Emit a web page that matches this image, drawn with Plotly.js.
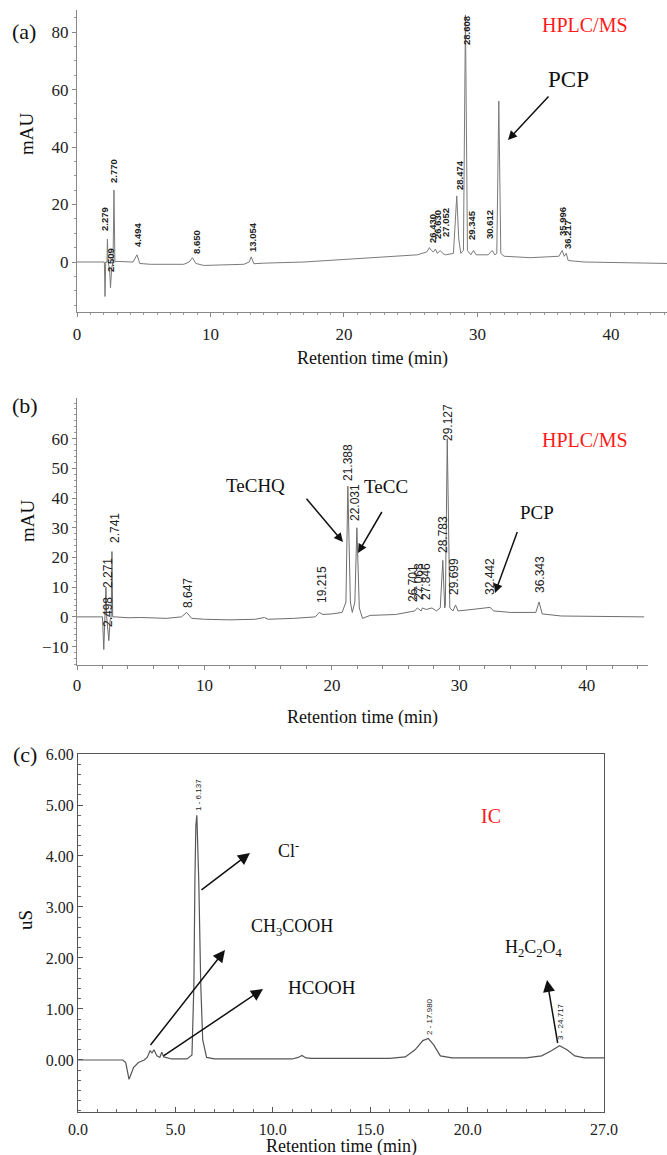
<!DOCTYPE html>
<html>
<head>
<meta charset="utf-8">
<script src="https://cdn.plot.ly/plotly-3.0.1.min.js"></script>
<style>html,body{margin:0;padding:0;background:#fff;}#chart{width:667px;height:1155px;}</style>
</head>
<body>
<div id="chart"></div>
<script>
// ---------- Data ----------
// Panel (a): HPLC/MS chromatogram, retention time (min) vs mAU
const timeA = [0,1.8,2.05,2.1,2.15,2.25,2.279,2.33,2.45,2.509,2.6,2.7,2.77,2.84,3.0,4.2,4.494,4.7,5.5,8.0,8.4,8.65,8.9,9.5,12.5,12.9,13.054,13.25,14,17,20,22,24,25.5,26.2,26.4,26.55,26.7,26.85,27.0,27.2,27.4,27.6,28.2,28.45,28.6,28.75,28.95,29.1,29.25,29.5,29.7,29.9,30.8,31.1,31.3,31.45,31.6,31.75,32.0,34,36.1,36.35,36.5,36.65,36.8,38,44.2];
const mauA  = [0,0,0,-12,0,0,8,0,-3,-9,-2,0,25,0,0.2,0,2.5,-0.5,-0.8,-0.8,0,1.5,-0.5,-1.2,-0.8,0,1.8,-0.6,-0.4,0,0.8,1.5,2.0,2.5,3.5,5,4,3.5,4.5,3,4,3,2.5,3,23,8,3,4,86,4,2.5,4,2.5,2.5,4,2.5,3,56,3,2,1.5,2,4,2,3,0.5,0,-0.5];
// Panel (b)
const timeB = [0,2.0,2.1,2.2,2.271,2.33,2.42,2.498,2.6,2.68,2.741,2.8,3,4,5,7,8.2,8.6,9,10,12,14,14.7,15,17,18.7,19.0,19.3,20,20.8,21.1,21.25,21.45,21.6,21.8,21.96,22.15,22.4,23,25,26.5,26.7,27,27.1,27.4,27.85,28.2,28.5,28.7,28.85,28.9,29.05,29.25,29.5,29.7,29.9,31,32.4,32.7,34,36,36.25,36.5,38,44.5];
const mauB  = [0,0,-11,0,10,0,-5,-8,-1,0,22,0,0,-0.3,-0.2,-0.5,0,1.5,-0.5,-0.8,-1,-0.8,-0.2,-0.8,-0.5,0,1.5,0.8,1,1.5,5,44,5,1.5,5,30,3,-0.5,0.5,0.8,2,3,2,3,2.5,3,2,3,19,3,4,60,3,2,4,2,2.5,3.2,2,1.5,1.5,5,1,0.3,0];
// Panel (c): ion chromatogram, retention time (min) vs uS
const timeC = [0,2.3,2.45,2.55,2.62,2.7,2.85,3.1,3.4,3.55,3.7,3.8,3.9,4.05,4.2,4.3,4.4,4.8,5.6,5.85,5.95,6.0,6.05,6.1,6.2,6.3,6.4,6.6,7,11,11.3,11.5,11.7,12,16,16.8,17.3,17.7,17.98,18.25,18.6,19.2,23,23.8,24.3,24.717,25.1,25.5,26,27];
const usC   = [0,0,-0.05,-0.25,-0.38,-0.3,-0.15,-0.05,0,0.05,0.18,0.14,0.2,0.08,0.05,0.15,0.06,0.02,0.02,0.1,1.5,3.5,4.6,4.8,3.5,1.5,0.4,0.05,0.02,0.02,0.05,0.09,0.04,0.03,0.03,0.06,0.2,0.38,0.42,0.3,0.08,0.04,0.04,0.08,0.18,0.28,0.2,0.08,0.04,0.04];

const ticksA = [0,20,40,60,80];
const ticksB = [-10,0,10,20,30,40,50,60];
const ticksC = [0,1,2,3,4,5,6];
const ticksCtext = ['0.00','1.00','2.00','3.00','4.00','5.00','6.00'];
const xticksC = [0,5,10,15,20,27];
const xticksCtext = ['0.0','5.0','10.0','15.0','20.0','27.0'];

const peakLabelsA = ['2.770','2.279','2.509','4.494','8.650','13.054','26.430','26.630','27.052','28.474','28.608','29.345','30.612','35.996','36.217'];
const peakLabelsB = ['2.741','2.271','2.498','8.647','19.215','21.388','22.031','26.701','27.068','27.846','28.783','29.127','29.699','32.442','36.343'];
const peakLabelsC = ['1 - 6.137','2 - 17.980','3 - 24.717'];

// ---------- Layout helpers ----------
const W = 667, H = 1155;
const PX = x => x / W;
const PY = y => 1 - y / H;
const serif = 'Liberation Serif';
const sans = 'Liberation Sans';

const traces = [
  {x: timeA, y: mauA, xaxis: 'x', yaxis: 'y', mode: 'lines', line: {color: '#7a7a7a', width: 1}, hoverinfo: 'skip'},
  {x: timeB, y: mauB, xaxis: 'x2', yaxis: 'y2', mode: 'lines', line: {color: '#6e6e6e', width: 1}, hoverinfo: 'skip'},
  {x: timeC, y: usC, xaxis: 'x3', yaxis: 'y3', mode: 'lines', line: {color: '#555', width: 1.2}, hoverinfo: 'skip'}
];

const tickFont = {family: serif, size: 17, color: '#222'};
function ax(extra) {
  return Object.assign({showgrid: false, zeroline: false, showline: true, linecolor: '#888', linewidth: 1,
    ticks: 'outside', ticklen: 4, tickcolor: '#888', tickfont: tickFont, fixedrange: true}, extra);
}

const annotations = [];
function txt(t, x, y, size, opts) {
  annotations.push(Object.assign({text: t, xref: 'paper', yref: 'paper', x: PX(x), y: PY(y),
    xanchor: 'center', yanchor: 'middle', showarrow: false,
    font: {family: serif, size: size, color: '#111'}}, opts || {}));
}
function arrow(hx, hy, tx, ty, size) {
  annotations.push({text: ' ', xref: 'paper', yref: 'paper', x: PX(hx), y: PY(hy),
    ax: tx - hx, ay: ty - hy, showarrow: true, arrowhead: 2, arrowsize: size || 1.2,
    arrowwidth: 1.5, arrowcolor: '#111', font: {size: 1}});
}
function plabel(t, x, y, size, bold) {
  txt(bold ? '<b>' + t + '</b>' : t, x, y, size, {textangle: -90, font: {family: sans, size: size, color: '#222'}});
}
const red = '#ff1a1a';

// Panel (a)
txt('(a)', 24, 32, 22);
txt('mAU', 27, 133, 19, {textangle: -90});
txt('HPLC/MS', 585, 25, 20, {font: {family: serif, size: 20, color: red}});
txt('PCP', 568, 80, 23);
arrow(508, 140, 550, 95, 1.2);
txt('Retention time (min)', 372, 358, 18);
const posA = [[114,171],[105,219],[110,260],[137,235],[196,242],[253,237],[432,228],[438,225],[445,223],[460,175],[466,30],[472,225],[490,225],[562,222],[567,235]];
peakLabelsA.forEach((t, i) => plabel(t, posA[i][0], posA[i][1], 9.5, true));

// Panel (b)
txt('(b)', 25, 405, 22);
txt('mAU', 27, 520, 19, {textangle: -90});
txt('HPLC/MS', 585, 440, 20, {font: {family: serif, size: 20, color: red}});
txt('TeCHQ', 255, 485, 19);
arrow(343, 542, 305, 497, 1.2);
txt('TeCC', 386, 487, 19);
arrow(358, 553, 383, 510, 1.2);
txt('PCP', 537, 512, 19);
arrow(495, 593, 518, 530, 1.2);
txt('Retention time (min)', 362, 717, 18);
const posB = [[115,528],[108,573],[108,612],[188,593],[322,585],[348,463],[355,503],[413,584],[419,582],[426,582],[443,535],[448,423],[454,577],[490,577],[540,575]];
peakLabelsB.forEach((t, i) => plabel(t, posB[i][0], posB[i][1], 12, false));

// Panel (c)
txt('(c)', 25, 754, 22);
txt('uS', 25, 920, 19, {textangle: -90});
txt('IC', 491, 816, 20, {font: {family: serif, size: 20, color: red}});
txt('Cl<sup>-</sup>', 288, 849, 18);
arrow(250, 853, 200, 891, 1.6);
txt('CH<sub>3</sub>COOH', 292, 927, 18);
arrow(225, 950, 149, 1047, 1.6);
txt('HCOOH', 322, 987, 19);
arrow(263, 989, 162, 1057, 1.6);
txt('H<sub>2</sub>C<sub>2</sub>O<sub>4</sub>', 534, 948, 18);
arrow(547, 980, 558, 1045, 1.6);
txt('Retention time (min)', 341, 1146, 18);
const posC = [[198,795],[429,1017],[560,1022]];
peakLabelsC.forEach((t, i) => plabel(t, posC[i][0], posC[i][1], 8, false));

const layout = {
  width: W, height: H,
  margin: {l: 0, r: 0, t: 0, b: 0},
  paper_bgcolor: '#fff', plot_bgcolor: 'rgba(0,0,0,0)',
  showlegend: false,
  font: {family: serif, color: '#111'},
  xaxis: ax({domain: [PX(77), 1], range: [0, 44.2], anchor: 'y', tickvals: [0,10,20,30,40],
    minor: {dtick: 1, ticklen: 2, tickcolor: '#999', ticks: 'outside'}, ticklabelstandoff: 3}),
  yaxis: ax({domain: [PY(312), PY(10)], range: [-17.4, 87.7], anchor: 'x', tickvals: ticksA,
    minor: {dtick: 5, ticklen: 2, tickcolor: '#999', ticks: 'outside'}}),
  xaxis2: ax({domain: [PX(77), PX(648)], range: [0, 44.8], anchor: 'y2', tickvals: [0,10,20,30,40],
    minor: {dtick: 2, ticklen: 3, tickcolor: '#888', ticks: 'outside'}, ticklabelstandoff: 1}),
  yaxis2: ax({domain: [PY(665), PY(398)], range: [-16.2, 73.7], anchor: 'x2', tickvals: ticksB,
    minor: {dtick: 2, ticklen: 2, tickcolor: '#999', ticks: 'outside'}}),
  xaxis3: ax({domain: [PX(78), PX(604)], range: [0, 27], anchor: 'y3', tickvals: xticksC, ticktext: xticksCtext,
    mirror: true, linecolor: '#555', tickcolor: '#555', ticks: 'inside', ticklen: 5,
    tickfont: {family: serif, size: 16, color: '#222'},
    minor: {dtick: 1, ticklen: 3, tickcolor: '#666', ticks: 'inside'}, ticklabelstandoff: 3}),
  yaxis3: ax({domain: [PY(1112), PY(754)], range: [-1.02, 6], anchor: 'x3', tickvals: ticksC, ticktext: ticksCtext,
    mirror: true, linecolor: '#555', tickcolor: '#555', ticks: 'inside', ticklen: 5,
    tickfont: {family: serif, size: 16, color: '#222'},
    minor: {dtick: 0.2, ticklen: 3, tickcolor: '#666', ticks: 'inside'}}),
  annotations: annotations
};

Plotly.newPlot('chart', traces, layout, {displayModeBar: false, staticPlot: true});
</script>
</body>
</html>
